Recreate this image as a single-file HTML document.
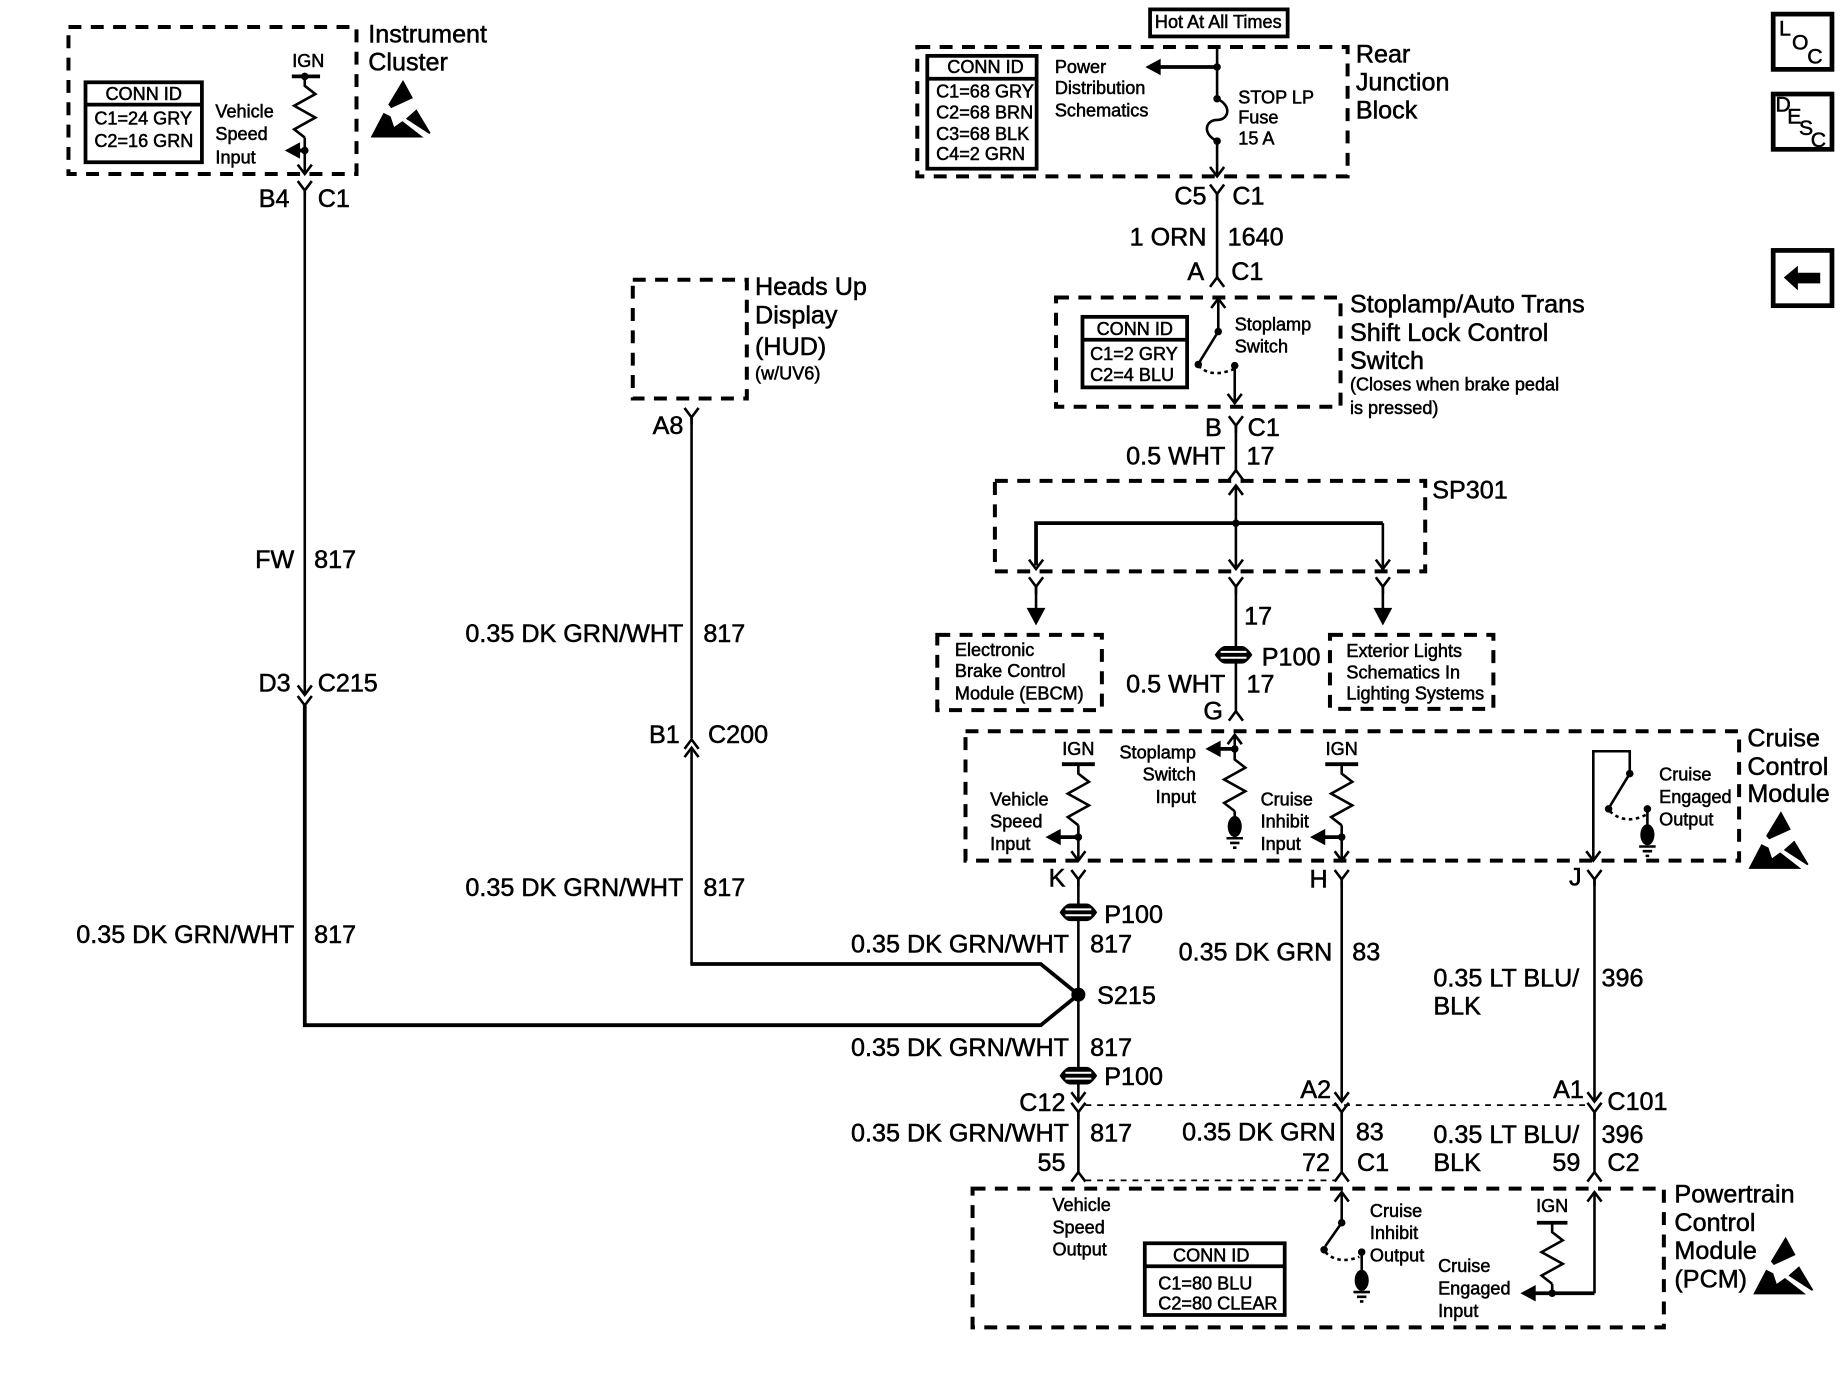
<!DOCTYPE html>
<html><head><meta charset="utf-8"><style>
html,body{margin:0;padding:0;background:#fff;width:1844px;height:1392px;overflow:hidden}
svg{display:block}
text{font-family:"Liberation Sans",sans-serif;fill:#000;stroke:#000;stroke-width:.45}
.b{font-size:21.4px}.t{font-size:21.4px}.s{font-size:15.4px}.e{text-anchor:end}.m{text-anchor:middle}
.d{fill:none;stroke:#000;stroke-width:3.4;stroke-dasharray:11 8}
.w{fill:none;stroke:#000;stroke-width:2.2}
.h{fill:none;stroke:#000;stroke-width:3.2}
.f{fill:#000;stroke:none}
.n{fill:none;stroke:#000;stroke-width:4}
.l{font-size:18px}
</style></head><body>
<svg width="1844" height="1392" viewBox="0 0 1568 1184" xmlns="http://www.w3.org/2000/svg">
<defs>
<path id="y" class="w" d="M-6 0L0 8L6 0M0 8V14"/>
<path id="u" class="w" d="M-6 8L0 0L6 8"/>
<path id="a" class="w" d="M-6 -8L0 0L6 -8"/>
<path id="au" class="w" d="M-6 8L0 0L6 8"/>
<path id="r" class="w" d="M0 0V8L9 15L-9 25L9 35L-9 45L0 52"/>
<circle id="o" r="3.200" class="f"/>
<path id="la" class="f" d="M0 0L13 -7V7Z"/>
<path id="da" class="f" d="M0 0L-8 -15H8Z"/>
<g id="p"><path class="f" d="M-16 0Q-11 -7.500 -7 -7.500H7Q11 -7.500 16 0Q11 7.500 7 7.500H-7Q-11 7.500 -16 0Z"/><path d="M-11 -2.500H11M-11 2.500H11" stroke="#fff" stroke-width="1.700" fill="none"/></g>
<g id="g"><ellipse class="f" cx="0" cy="0" rx="6" ry="9"/><path class="w" d="M-7 10H7M-4 14H4M-1.500 18H1.500"/></g>
<g id="esd"><path class="f" d="M27.600 0L36 15.500L17.500 24L15 21Z"/><path class="f" d="M0 49L11 28L17 31L20 40L27 35L45 49Z"/><path class="f" d="M39 25L51 45L50 46L30 33Z"/></g>
</defs>

<!-- Instrument Cluster -->
<rect class="d" x="58" y="23" width="245" height="125"/>
<rect class="h" x="72.500" y="70" width="99" height="68"/><path class="h" d="M72 89H172"/>
<text class="s m" x="122" y="85">CONN ID</text>
<text class="s" x="80" y="106">C1=24 GRY</text><text class="s" x="80" y="125">C2=16 GRN</text>
<text class="s m" x="262" y="57">IGN</text>
<path class="h" d="M248 65H272"/><use href="#o" x="259" y="65"/>
<use href="#r" x="259" y="65"/>
<path class="w" d="M259 117V147"/><use href="#o" x="259" y="128"/>
<path class="h" d="M250 128H259"/><use href="#la" x="242" y="128"/><use href="#a" x="259" y="148"/>
<text class="s" x="183" y="100">Vehicle</text><text class="s" x="183" y="119">Speed</text><text class="s" x="183" y="139">Input</text>
<text class="t" x="313" y="36">Instrument</text><text class="t" x="313" y="60">Cluster</text>
<use href="#esd" x="315" y="68"/>
<use href="#y" x="259" y="154"/>
<text class="b e" x="246" y="176">B4</text><text class="b" x="270" y="176">C1</text>
<path class="w" d="M259 162V590"/><use href="#a" x="259" y="591"/><use href="#y" x="259" y="592"/>
<path class="h" d="M259 600V872H885L917 846"/>
<text class="b e" x="250" y="483">FW</text><text class="b" x="267" y="483">817</text>
<text class="b e" x="247" y="588">D3</text><text class="b" x="270" y="588">C215</text>
<text class="b e" x="250" y="802">0.35 DK GRN/WHT</text><text class="b" x="267" y="802">817</text>

<!-- HUD -->
<rect class="d" x="538" y="238" width="97" height="101"/>
<text class="t" x="642" y="251">Heads Up</text><text class="t" x="642" y="275">Display</text><text class="t" x="642" y="302">(HUD)</text><text class="s" x="642" y="323">(w/UV6)</text>
<use href="#y" x="588" y="347"/><path class="w" d="M588 355V628"/>
<use href="#u" x="588" y="629"/><use href="#u" x="588" y="636"/>
<path class="w" d="M588 636V820"/><path class="h" d="M587 820H885L917 846"/>
<text class="b e" x="581" y="369">A8</text>
<text class="b e" x="581" y="546">0.35 DK GRN/WHT</text><text class="b" x="598" y="546">817</text>
<text class="b e" x="578" y="632">B1</text><text class="b" x="602" y="632">C200</text>
<text class="b e" x="581" y="762">0.35 DK GRN/WHT</text><text class="b" x="598" y="762">817</text>

<!-- Top -->
<rect class="h" x="978" y="8" width="117" height="23"/>
<text class="s m" x="1036" y="24">Hot At All Times</text>
<rect class="d" x="780" y="40" width="366" height="110"/>
<rect class="h" x="788.500" y="47.500" width="93" height="96"/><path class="h" d="M788 67H882"/>
<text class="s m" x="838" y="62">CONN ID</text>
<text class="s" x="796" y="83">C1=68 GRY</text><text class="s" x="796" y="101">C2=68 BRN</text><text class="s" x="796" y="119">C3=68 BLK</text><text class="s" x="796" y="136">C4=2 GRN</text>
<text class="s" x="897" y="62">Power</text><text class="s" x="897" y="80">Distribution</text><text class="s" x="897" y="99">Schematics</text>
<path class="w" d="M1035 40V85"/><use href="#o" x="1035" y="57"/><path class="h" d="M985 57H1035"/><use href="#la" x="974" y="57"/>
<use href="#o" x="1035" y="84"/><use href="#o" x="1035" y="120"/>
<path class="w" d="M1035 84C1048 90 1045 102 1035 102C1025 102 1022 114 1035 120V149"/>
<use href="#a" x="1035" y="150"/>
<text class="s" x="1053" y="88">STOP LP</text><text class="s" x="1053" y="105">Fuse</text><text class="s" x="1053" y="123">15 A</text>
<text class="t" x="1153" y="53">Rear</text><text class="t" x="1153" y="77">Junction</text><text class="t" x="1153" y="101">Block</text>
<use href="#y" x="1035" y="157"/><path class="w" d="M1035 165V236"/><use href="#u" x="1035" y="236"/>
<text class="b e" x="1026" y="174">C5</text><text class="b" x="1048" y="174">C1</text>
<text class="b e" x="1026" y="209">1 ORN</text><text class="b" x="1044" y="209">1640</text>
<text class="b e" x="1024" y="238">A</text><text class="b" x="1047" y="238">C1</text>

<!-- Stoplamp switch -->
<rect class="d" x="898" y="253" width="242" height="93"/>
<rect class="h" x="920.500" y="269.500" width="89" height="60"/><path class="h" d="M920 289H1010"/>
<text class="s m" x="965" y="285">CONN ID</text>
<text class="s" x="927" y="306">C1=2 GRY</text><text class="s" x="927" y="324">C2=4 BLU</text>
<use href="#au" x="1036" y="254"/><path class="w" d="M1036 254V282L1020 308"/><use href="#o" x="1036" y="282"/>
<use href="#o" x="1019" y="310"/><use href="#o" x="1050" y="311"/>
<path class="w" d="M1019 311Q1030 322 1049 314" stroke-dasharray="3 3"/>
<path class="w" d="M1050 311V342"/><use href="#a" x="1050" y="343"/>
<text class="s" x="1050" y="281">Stoplamp</text><text class="s" x="1050" y="300">Switch</text>
<text class="t" x="1148" y="266">Stoplamp/Auto Trans</text><text class="t" x="1148" y="290">Shift Lock Control</text><text class="t" x="1148" y="314">Switch</text>
<text class="s" x="1148" y="332">(Closes when brake pedal</text><text class="s" x="1148" y="352">is pressed)</text>
<use href="#y" x="1051" y="354"/><path class="w" d="M1051 362V400"/><use href="#u" x="1051" y="400"/>
<text class="b e" x="1039" y="371">B</text><text class="b" x="1061" y="371">C1</text>
<text class="b e" x="1042" y="395">0.5 WHT</text><text class="b" x="1060" y="395">17</text>

<!-- SP301 -->
<rect class="d" x="846" y="409" width="366" height="77"/>
<text class="b" x="1218" y="424">SP301</text>
<use href="#au" x="1051" y="413"/><path class="w" d="M1051 413V484"/><use href="#o" x="1051" y="445"/>
<path class="h" d="M881 481V445H1176"/><path class="w" d="M1176 445V482"/>
<use href="#a" x="881" y="484"/><use href="#a" x="1051" y="484"/><use href="#a" x="1176" y="484"/>
<use href="#y" x="881" y="491"/><use href="#y" x="1051" y="491"/><use href="#y" x="1176" y="491"/>
<path class="w" d="M881 499V520M1176 499V520M1051 499V552"/>
<use href="#da" x="881" y="532"/><use href="#da" x="1176" y="532"/>
<text class="b" x="1058" y="531">17</text>
<use href="#p" x="1049" y="557"/><text class="b" x="1073" y="566">P100</text>
<path class="w" d="M1051 564V606"/><use href="#u" x="1051" y="605"/>
<text class="b e" x="1042" y="589">0.5 WHT</text><text class="b" x="1060" y="589">17</text>
<text class="b e" x="1040" y="612">G</text>

<rect class="d" x="797" y="540" width="140" height="64"/>
<text class="s" x="812" y="558">Electronic</text><text class="s" x="812" y="576">Brake Control</text><text class="s" x="812" y="595">Module (EBCM)</text>
<rect class="d" x="1131" y="540" width="139" height="63"/>
<text class="s" x="1145" y="559">Exterior Lights</text><text class="s" x="1145" y="577">Schematics In</text><text class="s" x="1145" y="595">Lighting Systems</text>

<!-- Cruise -->
<rect class="d" x="821" y="622" width="658" height="110"/>
<text class="t" x="1486" y="635">Cruise</text><text class="t" x="1486" y="659">Control</text><text class="t" x="1486" y="682">Module</text>
<use href="#esd" x="1487" y="690"/>
<text class="s m" x="917" y="642">IGN</text><path class="h" d="M903 650H931"/>
<use href="#r" x="917" y="650"/><path class="w" d="M917 702V731"/><use href="#o" x="917" y="712"/>
<path class="h" d="M900 712H917"/><use href="#la" x="889" y="712"/><use href="#a" x="917" y="732"/>
<text class="s" x="842" y="685">Vehicle</text><text class="s" x="842" y="704">Speed</text><text class="s" x="842" y="723">Input</text>
<use href="#au" x="1050" y="625"/><path class="w" d="M1050 625V637"/><use href="#o" x="1050" y="637"/><path class="h" d="M1035 637H1050"/><use href="#la" x="1025" y="637"/>
<use href="#r" x="1050" y="638"/><path class="w" d="M1050 690V695"/><use href="#g" x="1050" y="703"/>
<text class="s e" x="1017" y="645">Stoplamp</text><text class="s e" x="1017" y="664">Switch</text><text class="s e" x="1017" y="683">Input</text>
<text class="s m" x="1141" y="642">IGN</text><path class="h" d="M1127 650H1155"/>
<use href="#r" x="1141" y="650"/><path class="w" d="M1141 702V731"/><use href="#o" x="1141" y="712"/>
<path class="h" d="M1126 712H1141"/><use href="#la" x="1114" y="712"/><use href="#a" x="1141" y="732"/>
<text class="s" x="1072" y="685">Cruise</text><text class="s" x="1072" y="704">Inhibit</text><text class="s" x="1072" y="723">Input</text>
<path class="w" d="M1355 731V639H1386V658L1369 686"/><use href="#a" x="1355" y="732"/>
<use href="#o" x="1386" y="658"/><use href="#o" x="1368" y="688"/><use href="#o" x="1401" y="688"/>
<path class="w" d="M1369 690Q1382 702 1400 693" stroke-dasharray="3 3"/>
<path class="w" d="M1401 688V703"/><use href="#g" x="1401" y="710"/>
<text class="s" x="1411" y="664">Cruise</text><text class="s" x="1411" y="683">Engaged</text><text class="s" x="1411" y="702">Output</text>

<!-- Lower wires -->
<use href="#y" x="917" y="740"/><use href="#y" x="1141" y="740"/><use href="#y" x="1356" y="740"/>
<text class="b e" x="906" y="754">K</text><text class="b e" x="1129" y="755">H</text><text class="b e" x="1345" y="753">J</text>
<path class="w" d="M917 748V935M1141 748V935M1356 748V935"/>
<use href="#p" x="917" y="776"/><text class="b" x="939" y="785">P100</text>
<text class="b e" x="909" y="810">0.35 DK GRN/WHT</text><text class="b" x="927" y="810">817</text>
<circle cx="917" cy="846" r="6" class="f"/><text class="b" x="933" y="854">S215</text>
<text class="b e" x="1133" y="817">0.35 DK GRN</text><text class="b" x="1150" y="817">83</text>
<text class="b" x="1219" y="839">0.35 LT BLU/</text><text class="b" x="1219" y="863">BLK</text><text class="b" x="1362" y="839">396</text>
<text class="b e" x="909" y="898">0.35 DK GRN/WHT</text><text class="b" x="927" y="898">817</text>
<use href="#p" x="917" y="915"/><text class="b" x="939" y="923">P100</text>
<use href="#a" x="917" y="937"/><use href="#a" x="1141" y="937"/><use href="#a" x="1356" y="937"/>
<use href="#y" x="917" y="938"/><use href="#y" x="1141" y="938"/><use href="#y" x="1356" y="938"/>
<path d="M923 940H1350" fill="none" stroke="#000" stroke-width="1.500" stroke-dasharray="5 5"/>
<path class="w" d="M917 946V999M1141 946V999M1356 946V999"/>
<use href="#u" x="917" y="997"/><use href="#u" x="1141" y="997"/><use href="#u" x="1356" y="997"/>
<path d="M923 1004H1135" fill="none" stroke="#000" stroke-width="1.500" stroke-dasharray="5 5"/>
<text class="b e" x="906" y="945">C12</text><text class="b e" x="1132" y="934">A2</text><text class="b e" x="1347" y="934">A1</text><text class="b" x="1367" y="944">C101</text>
<text class="b e" x="909" y="971">0.35 DK GRN/WHT</text><text class="b" x="927" y="971">817</text>
<text class="b e" x="1136" y="970">0.35 DK GRN</text><text class="b" x="1153" y="970">83</text>
<text class="b" x="1219" y="972">0.35 LT BLU/</text><text class="b" x="1362" y="972">396</text>
<text class="b e" x="906" y="996">55</text><text class="b e" x="1131" y="996">72</text><text class="b" x="1154" y="996">C1</text>
<text class="b" x="1219" y="996">BLK</text><text class="b e" x="1344" y="996">59</text><text class="b" x="1367" y="996">C2</text>

<!-- PCM -->
<rect class="d" x="827" y="1011" width="588" height="118"/>
<text class="t" x="1424" y="1023">Powertrain</text><text class="t" x="1424" y="1047">Control</text><text class="t" x="1424" y="1071">Module</text><text class="t" x="1424" y="1095">(PCM)</text>
<use href="#esd" x="1491" y="1052"/>
<text class="s" x="895" y="1030">Vehicle</text><text class="s" x="895" y="1049">Speed</text><text class="s" x="895" y="1068">Output</text>
<rect class="h" x="973.500" y="1057.500" width="119" height="61"/><path class="h" d="M973 1077H1093"/>
<text class="s m" x="1030" y="1073">CONN ID</text><text class="s" x="985" y="1097">C1=80 BLU</text><text class="s" x="985" y="1114">C2=80 CLEAR</text>
<use href="#au" x="1141" y="1014"/><path class="w" d="M1141 1014V1040L1127 1060"/><use href="#o" x="1141" y="1040"/>
<use href="#o" x="1126" y="1063"/><use href="#o" x="1158" y="1065"/>
<path class="w" d="M1127 1065Q1138 1076 1156 1069" stroke-dasharray="3 3"/>
<path class="w" d="M1158 1065V1082"/><use href="#g" x="1158" y="1089"/>
<text class="s" x="1165" y="1035">Cruise</text><text class="s" x="1165" y="1054">Inhibit</text><text class="s" x="1165" y="1073">Output</text>
<text class="s m" x="1320" y="1031">IGN</text><path class="h" d="M1307 1040H1333"/>
<use href="#r" x="1320" y="1040"/><path class="w" d="M1320 1092V1100"/><use href="#o" x="1320" y="1100"/>
<path class="h" d="M1304 1100H1356"/><path class="w" d="M1356 1100V1015"/><use href="#la" x="1293" y="1100"/><use href="#au" x="1356" y="1014"/>
<text class="s" x="1223" y="1082">Cruise</text><text class="s" x="1223" y="1101">Engaged</text><text class="s" x="1223" y="1120">Input</text>

<!-- Nav icons -->
<rect class="n" x="1508" y="12" width="50" height="47"/>
<text class="l" x="1513" y="30">L</text><text class="l" x="1524" y="42">O</text><text class="l" x="1537" y="54">C</text>
<rect class="n" x="1508" y="80" width="50" height="47"/>
<text class="l" x="1510" y="95">D</text><text class="l" x="1520" y="105">E</text><text class="l" x="1530" y="115">S</text><text class="l" x="1540" y="125">C</text>
<rect class="n" x="1508" y="213" width="50" height="47"/>
<path class="f" d="M1517 236L1529 226V232H1548V241H1529V247Z"/>
</svg>
</body></html>
